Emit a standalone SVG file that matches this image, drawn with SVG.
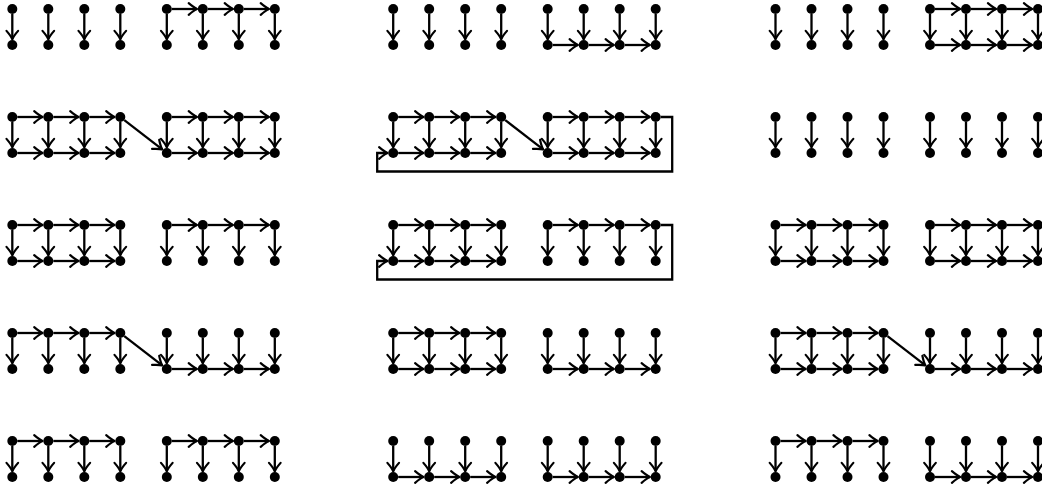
<svg xmlns="http://www.w3.org/2000/svg" xmlns:xlink="http://www.w3.org/1999/xlink" width="1042" height="492" viewBox="0 0 1042 492">
<style>
.c{stroke:#000;stroke-width:2.3;fill:none;marker-end:url(#a)}
.n circle{fill:#000}
</style>
<defs>
<marker id="a" markerUnits="userSpaceOnUse" markerWidth="20" markerHeight="20" viewBox="-13 -10 20 20" refX="0" refY="0" orient="auto">
<path d="M-8.3,-5.8 Q-3.1,-1.3 0,0 Q-3.1,1.3 -8.3,5.8" fill="none" stroke="#000" stroke-width="2.2" stroke-linecap="round" stroke-linejoin="round"/>
</marker>
<g id="verts" class="c">
<line x1="0" y1="5" x2="0" y2="30.2"/><line x1="36" y1="5" x2="36" y2="30.2"/><line x1="72" y1="5" x2="72" y2="30.2"/><line x1="108" y1="5" x2="108" y2="30.2"/>
<line x1="154.5" y1="5" x2="154.5" y2="30.2"/><line x1="190.5" y1="5" x2="190.5" y2="30.2"/><line x1="226.5" y1="5" x2="226.5" y2="30.2"/><line x1="262.5" y1="5" x2="262.5" y2="30.2"/>
</g>
<g id="g1t" class="c"><line x1="5" y1="0" x2="30.2" y2="0"/><line x1="41" y1="0" x2="66.2" y2="0"/><line x1="77" y1="0" x2="102.2" y2="0"/></g>
<g id="g1b" class="c"><line x1="5" y1="36" x2="30.2" y2="36"/><line x1="41" y1="36" x2="66.2" y2="36"/><line x1="77" y1="36" x2="102.2" y2="36"/></g>
<g id="g2t" class="c"><line x1="159.5" y1="0" x2="184.7" y2="0"/><line x1="195.5" y1="0" x2="220.7" y2="0"/><line x1="231.5" y1="0" x2="256.7" y2="0"/></g>
<g id="g2b" class="c"><line x1="159.5" y1="36" x2="184.7" y2="36"/><line x1="195.5" y1="36" x2="220.7" y2="36"/><line x1="231.5" y1="36" x2="256.7" y2="36"/></g>
<path id="diag" class="c" d="M112,3.1 L149.9,32.4"/>
<path id="loop" class="c" d="M267.5,0 H279 V54.5 H-16 V36 H-5.8"/>
</defs>

<g id="connectors">
<g transform="translate(12.3,9)"><use href="#verts"/><use href="#g2t"/></g>
<g transform="translate(393.2,9)"><use href="#verts"/><use href="#g2b"/></g>
<g transform="translate(775.5,9)"><use href="#verts"/><use href="#g2t"/><use href="#g2b"/></g>
<g transform="translate(12.3,117)"><use href="#verts"/><use href="#g1t"/><use href="#g1b"/><use href="#diag"/><use href="#g2t"/><use href="#g2b"/></g>
<g transform="translate(393.2,117)"><use href="#verts"/><use href="#g1t"/><use href="#g1b"/><use href="#diag"/><use href="#g2t"/><use href="#g2b"/><use href="#loop"/></g>
<g transform="translate(775.5,117)"><use href="#verts"/></g>
<g transform="translate(12.3,225)"><use href="#verts"/><use href="#g1t"/><use href="#g1b"/><use href="#g2t"/></g>
<g transform="translate(393.2,225)"><use href="#verts"/><use href="#g1t"/><use href="#g1b"/><use href="#g2t"/><use href="#loop"/></g>
<g transform="translate(775.5,225)"><use href="#verts"/><use href="#g1t"/><use href="#g1b"/><use href="#g2t"/><use href="#g2b"/></g>
<g transform="translate(12.3,333)"><use href="#verts"/><use href="#g1t"/><use href="#diag"/><use href="#g2b"/></g>
<g transform="translate(393.2,333)"><use href="#verts"/><use href="#g1t"/><use href="#g1b"/><use href="#g2b"/></g>
<g transform="translate(775.5,333)"><use href="#verts"/><use href="#g1t"/><use href="#g1b"/><use href="#diag"/><use href="#g2b"/></g>
<g transform="translate(12.3,441)"><use href="#verts"/><use href="#g1t"/><use href="#g2t"/></g>
<g transform="translate(393.2,441)"><use href="#verts"/><use href="#g1b"/><use href="#g2b"/></g>
<g transform="translate(775.5,441)"><use href="#verts"/><use href="#g1t"/><use href="#g2b"/></g>
</g>

<g id="nodes" class="n">
<g id="panel-r1c1" transform="translate(12.3,9)">
<g id="r1c1-t1"><circle cx="0" cy="0" r="5"/></g><g id="r1c1-t2"><circle cx="36" cy="0" r="5"/></g><g id="r1c1-t3"><circle cx="72" cy="0" r="5"/></g><g id="r1c1-t4"><circle cx="108" cy="0" r="5"/></g>
<g id="r1c1-t5"><circle cx="154.5" cy="0" r="5"/></g><g id="r1c1-t6"><circle cx="190.5" cy="0" r="5"/></g><g id="r1c1-t7"><circle cx="226.5" cy="0" r="5"/></g><g id="r1c1-t8"><circle cx="262.5" cy="0" r="5"/></g>
<g id="r1c1-b1"><circle cx="0" cy="36" r="5"/></g><g id="r1c1-b2"><circle cx="36" cy="36" r="5"/></g><g id="r1c1-b3"><circle cx="72" cy="36" r="5"/></g><g id="r1c1-b4"><circle cx="108" cy="36" r="5"/></g>
<g id="r1c1-b5"><circle cx="154.5" cy="36" r="5"/></g><g id="r1c1-b6"><circle cx="190.5" cy="36" r="5"/></g><g id="r1c1-b7"><circle cx="226.5" cy="36" r="5"/></g><g id="r1c1-b8"><circle cx="262.5" cy="36" r="5"/></g>
</g>
<g id="panel-r1c2" transform="translate(393.2,9)">
<g id="r1c2-t1"><circle cx="0" cy="0" r="5"/></g><g id="r1c2-t2"><circle cx="36" cy="0" r="5"/></g><g id="r1c2-t3"><circle cx="72" cy="0" r="5"/></g><g id="r1c2-t4"><circle cx="108" cy="0" r="5"/></g>
<g id="r1c2-t5"><circle cx="154.5" cy="0" r="5"/></g><g id="r1c2-t6"><circle cx="190.5" cy="0" r="5"/></g><g id="r1c2-t7"><circle cx="226.5" cy="0" r="5"/></g><g id="r1c2-t8"><circle cx="262.5" cy="0" r="5"/></g>
<g id="r1c2-b1"><circle cx="0" cy="36" r="5"/></g><g id="r1c2-b2"><circle cx="36" cy="36" r="5"/></g><g id="r1c2-b3"><circle cx="72" cy="36" r="5"/></g><g id="r1c2-b4"><circle cx="108" cy="36" r="5"/></g>
<g id="r1c2-b5"><circle cx="154.5" cy="36" r="5"/></g><g id="r1c2-b6"><circle cx="190.5" cy="36" r="5"/></g><g id="r1c2-b7"><circle cx="226.5" cy="36" r="5"/></g><g id="r1c2-b8"><circle cx="262.5" cy="36" r="5"/></g>
</g>
<g id="panel-r1c3" transform="translate(775.5,9)">
<g id="r1c3-t1"><circle cx="0" cy="0" r="5"/></g><g id="r1c3-t2"><circle cx="36" cy="0" r="5"/></g><g id="r1c3-t3"><circle cx="72" cy="0" r="5"/></g><g id="r1c3-t4"><circle cx="108" cy="0" r="5"/></g>
<g id="r1c3-t5"><circle cx="154.5" cy="0" r="5"/></g><g id="r1c3-t6"><circle cx="190.5" cy="0" r="5"/></g><g id="r1c3-t7"><circle cx="226.5" cy="0" r="5"/></g><g id="r1c3-t8"><circle cx="262.5" cy="0" r="5"/></g>
<g id="r1c3-b1"><circle cx="0" cy="36" r="5"/></g><g id="r1c3-b2"><circle cx="36" cy="36" r="5"/></g><g id="r1c3-b3"><circle cx="72" cy="36" r="5"/></g><g id="r1c3-b4"><circle cx="108" cy="36" r="5"/></g>
<g id="r1c3-b5"><circle cx="154.5" cy="36" r="5"/></g><g id="r1c3-b6"><circle cx="190.5" cy="36" r="5"/></g><g id="r1c3-b7"><circle cx="226.5" cy="36" r="5"/></g><g id="r1c3-b8"><circle cx="262.5" cy="36" r="5"/></g>
</g>
<g id="panel-r2c1" transform="translate(12.3,117)">
<g id="r2c1-t1"><circle cx="0" cy="0" r="5"/></g><g id="r2c1-t2"><circle cx="36" cy="0" r="5"/></g><g id="r2c1-t3"><circle cx="72" cy="0" r="5"/></g><g id="r2c1-t4"><circle cx="108" cy="0" r="5"/></g>
<g id="r2c1-t5"><circle cx="154.5" cy="0" r="5"/></g><g id="r2c1-t6"><circle cx="190.5" cy="0" r="5"/></g><g id="r2c1-t7"><circle cx="226.5" cy="0" r="5"/></g><g id="r2c1-t8"><circle cx="262.5" cy="0" r="5"/></g>
<g id="r2c1-b1"><circle cx="0" cy="36" r="5"/></g><g id="r2c1-b2"><circle cx="36" cy="36" r="5"/></g><g id="r2c1-b3"><circle cx="72" cy="36" r="5"/></g><g id="r2c1-b4"><circle cx="108" cy="36" r="5"/></g>
<g id="r2c1-b5"><circle cx="154.5" cy="36" r="5"/></g><g id="r2c1-b6"><circle cx="190.5" cy="36" r="5"/></g><g id="r2c1-b7"><circle cx="226.5" cy="36" r="5"/></g><g id="r2c1-b8"><circle cx="262.5" cy="36" r="5"/></g>
</g>
<g id="panel-r2c2" transform="translate(393.2,117)">
<g id="r2c2-t1"><circle cx="0" cy="0" r="5"/></g><g id="r2c2-t2"><circle cx="36" cy="0" r="5"/></g><g id="r2c2-t3"><circle cx="72" cy="0" r="5"/></g><g id="r2c2-t4"><circle cx="108" cy="0" r="5"/></g>
<g id="r2c2-t5"><circle cx="154.5" cy="0" r="5"/></g><g id="r2c2-t6"><circle cx="190.5" cy="0" r="5"/></g><g id="r2c2-t7"><circle cx="226.5" cy="0" r="5"/></g><g id="r2c2-t8"><circle cx="262.5" cy="0" r="5"/></g>
<g id="r2c2-b1"><circle cx="0" cy="36" r="5"/></g><g id="r2c2-b2"><circle cx="36" cy="36" r="5"/></g><g id="r2c2-b3"><circle cx="72" cy="36" r="5"/></g><g id="r2c2-b4"><circle cx="108" cy="36" r="5"/></g>
<g id="r2c2-b5"><circle cx="154.5" cy="36" r="5"/></g><g id="r2c2-b6"><circle cx="190.5" cy="36" r="5"/></g><g id="r2c2-b7"><circle cx="226.5" cy="36" r="5"/></g><g id="r2c2-b8"><circle cx="262.5" cy="36" r="5"/></g>
</g>
<g id="panel-r2c3" transform="translate(775.5,117)">
<g id="r2c3-t1"><circle cx="0" cy="0" r="5"/></g><g id="r2c3-t2"><circle cx="36" cy="0" r="5"/></g><g id="r2c3-t3"><circle cx="72" cy="0" r="5"/></g><g id="r2c3-t4"><circle cx="108" cy="0" r="5"/></g>
<g id="r2c3-t5"><circle cx="154.5" cy="0" r="5"/></g><g id="r2c3-t6"><circle cx="190.5" cy="0" r="5"/></g><g id="r2c3-t7"><circle cx="226.5" cy="0" r="5"/></g><g id="r2c3-t8"><circle cx="262.5" cy="0" r="5"/></g>
<g id="r2c3-b1"><circle cx="0" cy="36" r="5"/></g><g id="r2c3-b2"><circle cx="36" cy="36" r="5"/></g><g id="r2c3-b3"><circle cx="72" cy="36" r="5"/></g><g id="r2c3-b4"><circle cx="108" cy="36" r="5"/></g>
<g id="r2c3-b5"><circle cx="154.5" cy="36" r="5"/></g><g id="r2c3-b6"><circle cx="190.5" cy="36" r="5"/></g><g id="r2c3-b7"><circle cx="226.5" cy="36" r="5"/></g><g id="r2c3-b8"><circle cx="262.5" cy="36" r="5"/></g>
</g>
<g id="panel-r3c1" transform="translate(12.3,225)">
<g id="r3c1-t1"><circle cx="0" cy="0" r="5"/></g><g id="r3c1-t2"><circle cx="36" cy="0" r="5"/></g><g id="r3c1-t3"><circle cx="72" cy="0" r="5"/></g><g id="r3c1-t4"><circle cx="108" cy="0" r="5"/></g>
<g id="r3c1-t5"><circle cx="154.5" cy="0" r="5"/></g><g id="r3c1-t6"><circle cx="190.5" cy="0" r="5"/></g><g id="r3c1-t7"><circle cx="226.5" cy="0" r="5"/></g><g id="r3c1-t8"><circle cx="262.5" cy="0" r="5"/></g>
<g id="r3c1-b1"><circle cx="0" cy="36" r="5"/></g><g id="r3c1-b2"><circle cx="36" cy="36" r="5"/></g><g id="r3c1-b3"><circle cx="72" cy="36" r="5"/></g><g id="r3c1-b4"><circle cx="108" cy="36" r="5"/></g>
<g id="r3c1-b5"><circle cx="154.5" cy="36" r="5"/></g><g id="r3c1-b6"><circle cx="190.5" cy="36" r="5"/></g><g id="r3c1-b7"><circle cx="226.5" cy="36" r="5"/></g><g id="r3c1-b8"><circle cx="262.5" cy="36" r="5"/></g>
</g>
<g id="panel-r3c2" transform="translate(393.2,225)">
<g id="r3c2-t1"><circle cx="0" cy="0" r="5"/></g><g id="r3c2-t2"><circle cx="36" cy="0" r="5"/></g><g id="r3c2-t3"><circle cx="72" cy="0" r="5"/></g><g id="r3c2-t4"><circle cx="108" cy="0" r="5"/></g>
<g id="r3c2-t5"><circle cx="154.5" cy="0" r="5"/></g><g id="r3c2-t6"><circle cx="190.5" cy="0" r="5"/></g><g id="r3c2-t7"><circle cx="226.5" cy="0" r="5"/></g><g id="r3c2-t8"><circle cx="262.5" cy="0" r="5"/></g>
<g id="r3c2-b1"><circle cx="0" cy="36" r="5"/></g><g id="r3c2-b2"><circle cx="36" cy="36" r="5"/></g><g id="r3c2-b3"><circle cx="72" cy="36" r="5"/></g><g id="r3c2-b4"><circle cx="108" cy="36" r="5"/></g>
<g id="r3c2-b5"><circle cx="154.5" cy="36" r="5"/></g><g id="r3c2-b6"><circle cx="190.5" cy="36" r="5"/></g><g id="r3c2-b7"><circle cx="226.5" cy="36" r="5"/></g><g id="r3c2-b8"><circle cx="262.5" cy="36" r="5"/></g>
</g>
<g id="panel-r3c3" transform="translate(775.5,225)">
<g id="r3c3-t1"><circle cx="0" cy="0" r="5"/></g><g id="r3c3-t2"><circle cx="36" cy="0" r="5"/></g><g id="r3c3-t3"><circle cx="72" cy="0" r="5"/></g><g id="r3c3-t4"><circle cx="108" cy="0" r="5"/></g>
<g id="r3c3-t5"><circle cx="154.5" cy="0" r="5"/></g><g id="r3c3-t6"><circle cx="190.5" cy="0" r="5"/></g><g id="r3c3-t7"><circle cx="226.5" cy="0" r="5"/></g><g id="r3c3-t8"><circle cx="262.5" cy="0" r="5"/></g>
<g id="r3c3-b1"><circle cx="0" cy="36" r="5"/></g><g id="r3c3-b2"><circle cx="36" cy="36" r="5"/></g><g id="r3c3-b3"><circle cx="72" cy="36" r="5"/></g><g id="r3c3-b4"><circle cx="108" cy="36" r="5"/></g>
<g id="r3c3-b5"><circle cx="154.5" cy="36" r="5"/></g><g id="r3c3-b6"><circle cx="190.5" cy="36" r="5"/></g><g id="r3c3-b7"><circle cx="226.5" cy="36" r="5"/></g><g id="r3c3-b8"><circle cx="262.5" cy="36" r="5"/></g>
</g>
<g id="panel-r4c1" transform="translate(12.3,333)">
<g id="r4c1-t1"><circle cx="0" cy="0" r="5"/></g><g id="r4c1-t2"><circle cx="36" cy="0" r="5"/></g><g id="r4c1-t3"><circle cx="72" cy="0" r="5"/></g><g id="r4c1-t4"><circle cx="108" cy="0" r="5"/></g>
<g id="r4c1-t5"><circle cx="154.5" cy="0" r="5"/></g><g id="r4c1-t6"><circle cx="190.5" cy="0" r="5"/></g><g id="r4c1-t7"><circle cx="226.5" cy="0" r="5"/></g><g id="r4c1-t8"><circle cx="262.5" cy="0" r="5"/></g>
<g id="r4c1-b1"><circle cx="0" cy="36" r="5"/></g><g id="r4c1-b2"><circle cx="36" cy="36" r="5"/></g><g id="r4c1-b3"><circle cx="72" cy="36" r="5"/></g><g id="r4c1-b4"><circle cx="108" cy="36" r="5"/></g>
<g id="r4c1-b5"><circle cx="154.5" cy="36" r="5"/></g><g id="r4c1-b6"><circle cx="190.5" cy="36" r="5"/></g><g id="r4c1-b7"><circle cx="226.5" cy="36" r="5"/></g><g id="r4c1-b8"><circle cx="262.5" cy="36" r="5"/></g>
</g>
<g id="panel-r4c2" transform="translate(393.2,333)">
<g id="r4c2-t1"><circle cx="0" cy="0" r="5"/></g><g id="r4c2-t2"><circle cx="36" cy="0" r="5"/></g><g id="r4c2-t3"><circle cx="72" cy="0" r="5"/></g><g id="r4c2-t4"><circle cx="108" cy="0" r="5"/></g>
<g id="r4c2-t5"><circle cx="154.5" cy="0" r="5"/></g><g id="r4c2-t6"><circle cx="190.5" cy="0" r="5"/></g><g id="r4c2-t7"><circle cx="226.5" cy="0" r="5"/></g><g id="r4c2-t8"><circle cx="262.5" cy="0" r="5"/></g>
<g id="r4c2-b1"><circle cx="0" cy="36" r="5"/></g><g id="r4c2-b2"><circle cx="36" cy="36" r="5"/></g><g id="r4c2-b3"><circle cx="72" cy="36" r="5"/></g><g id="r4c2-b4"><circle cx="108" cy="36" r="5"/></g>
<g id="r4c2-b5"><circle cx="154.5" cy="36" r="5"/></g><g id="r4c2-b6"><circle cx="190.5" cy="36" r="5"/></g><g id="r4c2-b7"><circle cx="226.5" cy="36" r="5"/></g><g id="r4c2-b8"><circle cx="262.5" cy="36" r="5"/></g>
</g>
<g id="panel-r4c3" transform="translate(775.5,333)">
<g id="r4c3-t1"><circle cx="0" cy="0" r="5"/></g><g id="r4c3-t2"><circle cx="36" cy="0" r="5"/></g><g id="r4c3-t3"><circle cx="72" cy="0" r="5"/></g><g id="r4c3-t4"><circle cx="108" cy="0" r="5"/></g>
<g id="r4c3-t5"><circle cx="154.5" cy="0" r="5"/></g><g id="r4c3-t6"><circle cx="190.5" cy="0" r="5"/></g><g id="r4c3-t7"><circle cx="226.5" cy="0" r="5"/></g><g id="r4c3-t8"><circle cx="262.5" cy="0" r="5"/></g>
<g id="r4c3-b1"><circle cx="0" cy="36" r="5"/></g><g id="r4c3-b2"><circle cx="36" cy="36" r="5"/></g><g id="r4c3-b3"><circle cx="72" cy="36" r="5"/></g><g id="r4c3-b4"><circle cx="108" cy="36" r="5"/></g>
<g id="r4c3-b5"><circle cx="154.5" cy="36" r="5"/></g><g id="r4c3-b6"><circle cx="190.5" cy="36" r="5"/></g><g id="r4c3-b7"><circle cx="226.5" cy="36" r="5"/></g><g id="r4c3-b8"><circle cx="262.5" cy="36" r="5"/></g>
</g>
<g id="panel-r5c1" transform="translate(12.3,441)">
<g id="r5c1-t1"><circle cx="0" cy="0" r="5"/></g><g id="r5c1-t2"><circle cx="36" cy="0" r="5"/></g><g id="r5c1-t3"><circle cx="72" cy="0" r="5"/></g><g id="r5c1-t4"><circle cx="108" cy="0" r="5"/></g>
<g id="r5c1-t5"><circle cx="154.5" cy="0" r="5"/></g><g id="r5c1-t6"><circle cx="190.5" cy="0" r="5"/></g><g id="r5c1-t7"><circle cx="226.5" cy="0" r="5"/></g><g id="r5c1-t8"><circle cx="262.5" cy="0" r="5"/></g>
<g id="r5c1-b1"><circle cx="0" cy="36" r="5"/></g><g id="r5c1-b2"><circle cx="36" cy="36" r="5"/></g><g id="r5c1-b3"><circle cx="72" cy="36" r="5"/></g><g id="r5c1-b4"><circle cx="108" cy="36" r="5"/></g>
<g id="r5c1-b5"><circle cx="154.5" cy="36" r="5"/></g><g id="r5c1-b6"><circle cx="190.5" cy="36" r="5"/></g><g id="r5c1-b7"><circle cx="226.5" cy="36" r="5"/></g><g id="r5c1-b8"><circle cx="262.5" cy="36" r="5"/></g>
</g>
<g id="panel-r5c2" transform="translate(393.2,441)">
<g id="r5c2-t1"><circle cx="0" cy="0" r="5"/></g><g id="r5c2-t2"><circle cx="36" cy="0" r="5"/></g><g id="r5c2-t3"><circle cx="72" cy="0" r="5"/></g><g id="r5c2-t4"><circle cx="108" cy="0" r="5"/></g>
<g id="r5c2-t5"><circle cx="154.5" cy="0" r="5"/></g><g id="r5c2-t6"><circle cx="190.5" cy="0" r="5"/></g><g id="r5c2-t7"><circle cx="226.5" cy="0" r="5"/></g><g id="r5c2-t8"><circle cx="262.5" cy="0" r="5"/></g>
<g id="r5c2-b1"><circle cx="0" cy="36" r="5"/></g><g id="r5c2-b2"><circle cx="36" cy="36" r="5"/></g><g id="r5c2-b3"><circle cx="72" cy="36" r="5"/></g><g id="r5c2-b4"><circle cx="108" cy="36" r="5"/></g>
<g id="r5c2-b5"><circle cx="154.5" cy="36" r="5"/></g><g id="r5c2-b6"><circle cx="190.5" cy="36" r="5"/></g><g id="r5c2-b7"><circle cx="226.5" cy="36" r="5"/></g><g id="r5c2-b8"><circle cx="262.5" cy="36" r="5"/></g>
</g>
<g id="panel-r5c3" transform="translate(775.5,441)">
<g id="r5c3-t1"><circle cx="0" cy="0" r="5"/></g><g id="r5c3-t2"><circle cx="36" cy="0" r="5"/></g><g id="r5c3-t3"><circle cx="72" cy="0" r="5"/></g><g id="r5c3-t4"><circle cx="108" cy="0" r="5"/></g>
<g id="r5c3-t5"><circle cx="154.5" cy="0" r="5"/></g><g id="r5c3-t6"><circle cx="190.5" cy="0" r="5"/></g><g id="r5c3-t7"><circle cx="226.5" cy="0" r="5"/></g><g id="r5c3-t8"><circle cx="262.5" cy="0" r="5"/></g>
<g id="r5c3-b1"><circle cx="0" cy="36" r="5"/></g><g id="r5c3-b2"><circle cx="36" cy="36" r="5"/></g><g id="r5c3-b3"><circle cx="72" cy="36" r="5"/></g><g id="r5c3-b4"><circle cx="108" cy="36" r="5"/></g>
<g id="r5c3-b5"><circle cx="154.5" cy="36" r="5"/></g><g id="r5c3-b6"><circle cx="190.5" cy="36" r="5"/></g><g id="r5c3-b7"><circle cx="226.5" cy="36" r="5"/></g><g id="r5c3-b8"><circle cx="262.5" cy="36" r="5"/></g>
</g>
</g>
</svg>
